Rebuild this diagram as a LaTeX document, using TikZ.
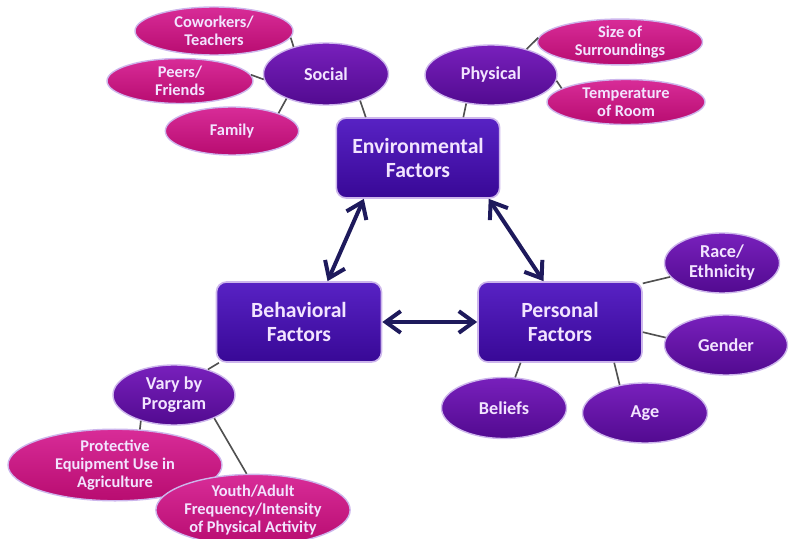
\documentclass[tikz,border=0pt]{standalone}
\usepackage{fontspec}
\setmainfont{Carlito}
\usetikzlibrary{arrows.meta,shapes.geometric}

\definecolor{boxtop}{HTML}{5822C4}
\definecolor{boxbottom}{HTML}{380896}
\definecolor{traittop}{HTML}{7820BC}
\definecolor{traitbottom}{HTML}{520A90}
\definecolor{itemtop}{HTML}{D82C98}
\definecolor{itembottom}{HTML}{B80C70}
\definecolor{glow}{HTML}{CDB6EC}
\definecolor{labeltext}{HTML}{F2E4FF}
\definecolor{linkgray}{HTML}{505050}
\definecolor{arrownavy}{HTML}{1E1A5C}

\begin{document}
\begin{tikzpicture}[
  x=0.03cm, y=-0.03cm,
  >={Straight Barb[length=4.5mm,width=6.5mm]},
  factor/.style={rectangle, rounded corners=3mm, draw=glow, line width=1.4pt,
    top color=boxtop, bottom color=boxbottom, text=labeltext, align=center,
    inner sep=0pt, minimum width=4.9cm, minimum height=2.4cm,
    font=\bfseries\fontsize{18.5}{20}\selectfont},
  trait/.style={ellipse, draw=glow, line width=1.2pt, top color=traittop,
    bottom color=traitbottom, text=labeltext, align=center, inner sep=0pt,
    minimum height=1.8cm, font=\bfseries\fontsize{15.5}{17}\selectfont},
  item/.style={ellipse, draw=glow, line width=1.2pt, top color=itemtop,
    bottom color=itembottom, text=labeltext, align=center, inner sep=0pt,
    font=\bfseries\fontsize{14}{15.5}\selectfont},
  link/.style={-, line width=1.4pt, linkgray},
  twoway/.style={<->, line width=3.4pt, arrownavy},
]
  \useasboundingbox (0,0) rectangle (790,539);

  % Main factors
  \node[factor] (env) at (418,158) {Environmental\\Factors};
  \node[factor, minimum width=4.95cm] (beh) at (299,322) {Behavioral\\Factors};
  \node[factor, minimum width=4.92cm] (per) at (560,322) {Personal\\Factors};

  % Environmental branch
  \node[trait, minimum width=3.75cm, minimum height=1.86cm] (soc) at (326,74) {Social};
  \node[trait, minimum width=3.96cm] (phy) at (491,75) {Physical};
  \node[item, minimum width=4.74cm, minimum height=1.44cm] (cow) at (214,31) {Coworkers/\\Teachers};
  \node[item, minimum width=4.38cm, minimum height=1.35cm] (peer) at (180,81) {Peers/\\Friends};
  \node[item, minimum width=4.0cm, minimum height=1.44cm] (fam) at (232,131) {Family};
  \node[item, minimum width=4.95cm, minimum height=1.29cm] (size) at (620,42) {Size of\\Surroundings};
  \node[item, minimum width=4.74cm, minimum height=1.35cm] (temp) at (626,102) {Temperature\\of Room};

  % Personal branch
  \node[trait, minimum width=3.45cm] (race) at (722,263) {Race/\\Ethnicity};
  \node[trait, minimum width=3.69cm] (gen) at (726,345) {Gender};
  \node[trait, minimum width=3.75cm, minimum height=1.83cm] (bel) at (504,408) {Beliefs};
  \node[trait, minimum width=3.75cm] (age) at (645,413) {Age};

  % Behavioral branch
  \node[trait, minimum width=3.66cm] (vary) at (174,395) {Vary by\\Program};
  \node[item, minimum width=6.42cm, minimum height=1.92cm] (prot) at (115,465) {Protective\\Equipment Use in\\Agriculture};
  \node[item, minimum width=5.25cm, minimum height=1.68cm] (youth) at (253,510) {Youth/Adult\\Frequency/Intensity\\of Physical Activity};

  % Links
  \draw[link] (cow.-5) -- (soc.140);
  \draw[link] (peer.5) -- (soc.185);
  \draw[link] (fam.21) -- (soc.212);
  \draw[link] (soc.-38) -- (env.142);
  \draw[link] (phy.229) -- (env.42);
  \draw[link] (phy.36) -- (size.177);
  \draw[link] (phy.-5) -- (temp.168);
  \draw[link] (per.25) -- (race.195);
  \draw[link] (per.-7) -- (gen.173);
  \draw[link] (per.226) -- (bel.70);
  \draw[link] (per.-37) -- (age.132);
  \draw[link] (beh.207) -- (vary.37);
  \draw[link] (vary.218) -- (prot.55);
  \draw[link] (vary.-30) -- (youth.100);

  % Two-way influences
  \draw[twoway] (env.217) -- (beh.55);
  \draw[twoway] (env.-30) -- (per.112);
  \draw[twoway] (beh) -- (per);
\end{tikzpicture}
\end{document}
